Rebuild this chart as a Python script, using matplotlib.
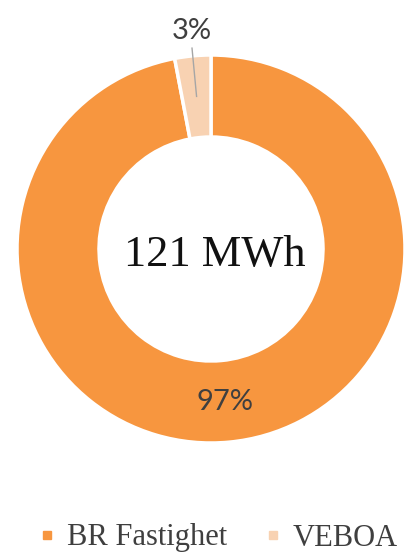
import matplotlib
matplotlib.use("Agg")
import matplotlib.pyplot as plt
from matplotlib.lines import Line2D
import numpy as np

categories = ["BR Fastighet", "VEBOA"]
shares = [97, 3]
total_label = "121 MWh"
colors = ["#F7963F", "#F8D2B2"]

W, H = 406, 553
fig = plt.figure(figsize=(W / 100, H / 100), dpi=100)
ax = fig.add_axes([0, 0, 1, 1])

cx, cy, R = 211, 304, 194
ring = 82

wedges, _ = ax.pie(
    shares, colors=colors, startangle=90, counterclock=False,
    center=(cx, cy), radius=R, frame=True,
    wedgeprops=dict(width=ring, edgecolor="white", linewidth=2.5),
)
ax.set_xlim(0, W)
ax.set_ylim(0, H)
ax.set_aspect("equal")
ax.axis("off")

label_font = dict(family=["Lato", "DejaVu Sans"], fontsize=21, color="#3F3F3F")
for w, val in zip(wedges, shares):
    mid = np.deg2rad((w.theta1 + w.theta2) / 2)
    d = np.array([np.cos(mid), np.sin(mid)])
    if val >= 10:
        p = np.array([cx, cy]) + d * R * 0.79
        ax.text(p[0], p[1], f"{val}%", ha="center", va="center", **label_font)
    else:
        p0 = np.array([cx, cy]) + d * R * 0.79
        p1 = np.array([cx, cy]) + d * R * 1.04
        ax.plot([p0[0], p1[0]], [p0[1], p1[1]], color="#A6A6A6", lw=1)
        p = np.array([cx, cy]) + d * R * 1.13
        ax.text(p[0] + 1, p[1], f"{val}%", ha="center", va="center", **label_font)

ax.text(cx + 4, cy - 6, total_label, ha="center", va="center",
        family=["Liberation Serif", "DejaVu Serif"], fontsize=32, color="#111111")

handles = [Line2D([], [], marker="s", linestyle="none", markersize=6,
                  markerfacecolor=c, markeredgecolor=c) for c in colors]
leg = fig.legend(handles, categories, loc="center", ncol=2,
                 bbox_to_anchor=(218 / W, 1 - 538 / H), frameon=False,
                 prop=dict(family=["Liberation Serif", "DejaVu Serif"], size=22),
                 handlelength=0.6, handletextpad=0.35, columnspacing=1.2,
                 borderpad=0, borderaxespad=0)
for t in leg.get_texts():
    t.set_color("#3F3F3F")

fig.savefig("out.png", dpi=100)
